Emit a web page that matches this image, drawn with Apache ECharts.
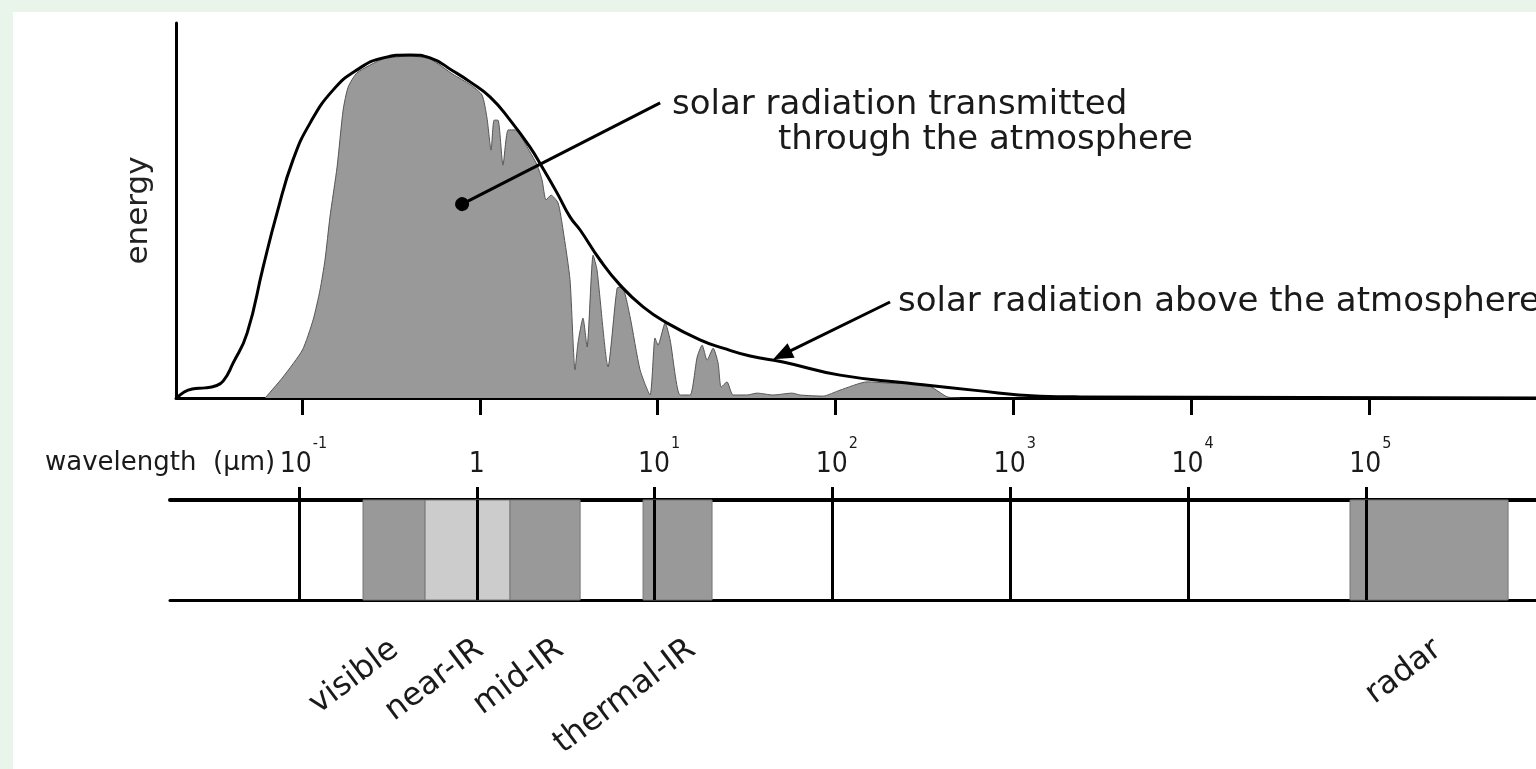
<!DOCTYPE html>
<html>
<head>
<meta charset="utf-8">
<title>solar radiation spectrum</title>
<script src="https://cdn.jsdelivr.net/npm/echarts@6/dist/echarts.min.js"></script>
<style>
	html, body {
		margin: 0;
		padding: 0;
		width: 1536px;
		height: 769px;
		overflow: hidden;
		background: #e9f5ea;
	}

	.panel {
		position: absolute;
		left: 13px;
		top: 12px;
		width: 1523px;
		height: 757px;
		background: #fff;
	}
</style>
</head>
<body>
<div class="panel" id="myChart"></div>
<script>
	// x values are log10 of the wavelength in µm, energy is in arbitrary units (0-100)
	// solar radiation above the atmosphere
	var aboveLogWl = [-1.703, -1.663, -1.618, -1.545, -1.489, -1.444, -1.388, -1.309, -1.219, -1.141, -1.051, -0.955, -0.826, -0.691, -0.544, -0.393, -0.280, -0.151, -0.055, 0.057, 0.170, 0.282, 0.350, 0.434, 0.507, 0.564, 0.676, 0.789, 0.918, 1.053, 1.238, 1.368, 1.520, 1.705, 2.026, 2.403, 2.774, 3.151, 3.376, 5.940];
	var aboveEnergy = [0, 1.6, 2.4, 2.7, 3.2, 4.5, 9.3, 17.3, 34.9, 49.3, 63.5, 73.3, 82.1, 87.5, 90.7, 91.5, 90.7, 87.2, 84.3, 80.3, 74.1, 66.9, 61.6, 54.7, 48.3, 44.8, 36.8, 30.1, 24.3, 20.0, 15.5, 13.3, 11.2, 9.6, 6.1, 4.0, 2.1, 0.5, 0.3, 0];

	// solar radiation transmitted through the atmosphere
	var transLogWl = [-1.208, -1.107, -0.998, -0.938, -0.899, -0.871, -0.843, -0.803, -0.769, -0.741, -0.691, -0.544, -0.393, -0.280, -0.151, -0.055, 0.012, 0.040, 0.063, 0.080, 0.102, 0.130, 0.159, 0.198, 0.282, 0.322, 0.350, 0.372, 0.400, 0.440, 0.468, 0.507, 0.535, 0.552, 0.580, 0.603, 0.637, 0.659, 0.721, 0.772, 0.800, 0.845, 0.901, 0.957, 0.985, 1.002, 1.042, 1.070, 1.126, 1.182, 1.222, 1.250, 1.278, 1.312, 1.340, 1.357, 1.390, 1.424, 1.503, 1.559, 1.649, 1.756, 1.801, 1.930, 2.026, 2.178, 2.290, 2.515, 2.628, 2.701];
	var transEnergy = [0, 5.6, 12.8, 20.8, 28.8, 36.8, 48.3, 61.6, 76.8, 82.9, 86.7, 90.4, 91.2, 90.4, 86.3, 83.6, 80.8, 74.7, 66.1, 74.1, 74.1, 62.1, 71.5, 71.5, 65.6, 62.1, 58.1, 52.8, 54.1, 52.0, 44.8, 31.5, 7.5, 14.7, 21.3, 13.6, 38.1, 34.1, 8.3, 29.3, 29.6, 21.6, 7.5, 0.8, 16.0, 14.1, 20.0, 15.5, 0.8, 0.8, 10.9, 14.1, 10.1, 13.3, 9.3, 2.9, 4.3, 0.8, 0.8, 1.3, 0.8, 1.3, 0.8, 0.5, 2.1, 4.3, 4.0, 3.5, 0.3, 0];

	// decades of the wavelength scale (exponents of 10)
	var decades = [-1, 0, 1, 2, 3, 4, 5];

	// remote sensing bands (log10 µm)
	var bandNames = ['visible', 'near-IR', 'mid-IR', 'thermal-IR', 'radar'];
	var bandStart = [-0.640, -0.291, 0.187, 0.935, 4.911];
	var bandEnd = [-0.291, 0.187, 0.581, 1.323, 5.800];
	var bandLabelAt = [-0.46, 0.018, 0.468, 1.21, 5.406];

	var handFont = '"DejaVu Sans", "Noto Sans", sans-serif';
	var tickFont = '"DejaVu Sans Condensed", "Liberation Sans Narrow", "DejaVu Sans", sans-serif';

	function zip(xs, ys) {
		var out = [];
		for (var i = 0; i < xs.length; i++) {
			out.push([xs[i], ys[i]]);
		}
		return out;
	}

	var myChart = echarts.init(document.getElementById('myChart'));

	myChart.setOption({
		animation: false,
		grid: [
			// spectrum
			{ left: 163, top: 11, right: 0, height: 375 },
			// band strip
			{ left: 157, top: 488, right: 0, height: 100 }
		],
		xAxis: [{
			gridIndex: 0,
			type: 'value',
			min: -1.709,
			max: 5.940,
			position: 'bottom',
			axisLine: { onZero: false, lineStyle: { color: '#000', width: 3 } },
			axisTick: { show: true, customValues: decades, length: 17, lineStyle: { color: '#000', width: 3 } },
			axisLabel: { show: false },
			splitLine: { show: false }
		}, {
			gridIndex: 1,
			type: 'value',
			min: -1.7255,
			max: 5.957,
			position: 'top',
			axisLine: { onZero: false, lineStyle: { color: '#000', width: 4 } },
			axisTick: { show: true, customValues: decades, length: 13, lineStyle: { color: '#000', width: 3 } },
			axisLabel: {
				customValues: decades,
				margin: 21,
				formatter: function (v) {
					// h / g are empty spacers: they make the line taller so the exponent sits high
					if (v === 0) {
						return '{g|}{b|1}';
					}
					return '{h|}{b|10}{s|' + v + '}';
				},
				rich: {
					h: { width: 9, lineHeight: 43, fontSize: 1 },
					g: { width: 0, lineHeight: 43, fontSize: 1 },
					b: { fontSize: 28, lineHeight: 28, fontFamily: tickFont, color: '#1a1a1a', verticalAlign: 'bottom' },
					s: { fontSize: 16, lineHeight: 16, fontFamily: tickFont, color: '#1a1a1a', verticalAlign: 'top', padding: [0, 0, 0, 1] }
				}
			},
			splitLine: { show: false }
		}, {
			gridIndex: 1,
			type: 'value',
			min: -1.7255,
			max: 5.957,
			position: 'bottom',
			axisLine: { onZero: false, lineStyle: { color: '#000', width: 3 } },
			axisTick: { show: false },
			axisLabel: {
				customValues: bandLabelAt,
				rotate: 37,
				margin: 46,
				fontSize: 32,
				fontFamily: handFont,
				color: '#1a1a1a',
				formatter: function (v) {
					return bandNames[bandLabelAt.indexOf(v)];
				}
			},
			splitLine: { show: false }
		}],
		yAxis: [{
			gridIndex: 0,
			type: 'value',
			min: 0,
			max: 100,
			name: 'energy',
			nameLocation: 'middle',
			nameRotate: 90,
			nameGap: 22,
			nameTextStyle: { fontSize: 31, fontFamily: handFont, color: '#222' },
			axisLine: { show: true, onZero: false, lineStyle: { color: '#000', width: 3 } },
			axisTick: { show: false },
			axisLabel: { show: false },
			splitLine: { show: false }
		}, {
			gridIndex: 1,
			type: 'value',
			min: 0,
			max: 1,
			show: false
		}],
		series: [{
			// 大气层透射的太阳辐射
			name: 'transmitted',
			type: 'line',
			xAxisIndex: 0,
			yAxisIndex: 0,
			data: zip(transLogWl, transEnergy),
			showSymbol: false,
			smooth: 0.2,
			z: 2,
			lineStyle: { color: '#555', width: 1 },
			areaStyle: { color: '#999', opacity: 1 }
		}, {
			// 大气层上方的太阳辐射
			name: 'above',
			type: 'line',
			xAxisIndex: 0,
			yAxisIndex: 0,
			data: zip(aboveLogWl, aboveEnergy),
			showSymbol: false,
			smooth: 0.5,
			z: 4,
			lineStyle: { color: '#000', width: 3 },
			markLine: {
				silent: true,
				animation: false,
				label: { show: false },
				lineStyle: { color: '#000', width: 3, type: 'solid' },
				data: [
					[{ coord: [-0.100, 51.7], symbol: 'circle', symbolSize: 14 }, { coord: [1.014, 78.7], symbol: 'none' }],
					[{ coord: [2.307, 25.6], symbol: 'none' }, { coord: [1.700, 11.5], symbol: 'triangle', symbolSize: [16, 20] }]
				]
			}
		}, {
			// band shading
			name: 'bands',
			type: 'line',
			xAxisIndex: 1,
			yAxisIndex: 1,
			data: [],
			z: 1,
			markArea: {
				silent: true,
				data: bandNames.map(function (name, i) {
					return [{
						xAxis: bandStart[i],
						itemStyle: {
							color: name === 'near-IR' ? '#cccccc' : '#999999',
							borderColor: '#777',
							borderWidth: 1
						}
					}, { xAxis: bandEnd[i] }];
				})
			}
		}, {
			// decade lines through the band strip
			name: 'decades',
			type: 'line',
			xAxisIndex: 1,
			yAxisIndex: 1,
			data: [],
			z: 3,
			markLine: {
				silent: true,
				symbol: 'none',
				label: { show: false },
				lineStyle: { color: '#000', width: 3, type: 'solid' },
				data: decades.map(function (d) {
					return { xAxis: d };
				})
			}
		}],
		graphic: [{
			type: 'text',
			x: 659,
			y: 93,
			style: { text: 'solar radiation transmitted', font: '34px ' + handFont, fill: '#1a1a1a', verticalAlign: 'middle' }
		}, {
			type: 'text',
			x: 765,
			y: 128,
			style: { text: 'through the atmosphere', font: '34px ' + handFont, fill: '#1a1a1a', verticalAlign: 'middle' }
		}, {
			type: 'text',
			x: 885,
			y: 290,
			style: { text: 'solar radiation above the atmosphere', font: '34px ' + handFont, fill: '#1a1a1a', verticalAlign: 'middle' }
		}, {
			type: 'text',
			x: 32,
			y: 451,
			style: { text: 'wavelength  (µm)', font: '26px ' + handFont, fill: '#1a1a1a', verticalAlign: 'middle' }
		}]
	});
</script>
</body>
</html>
